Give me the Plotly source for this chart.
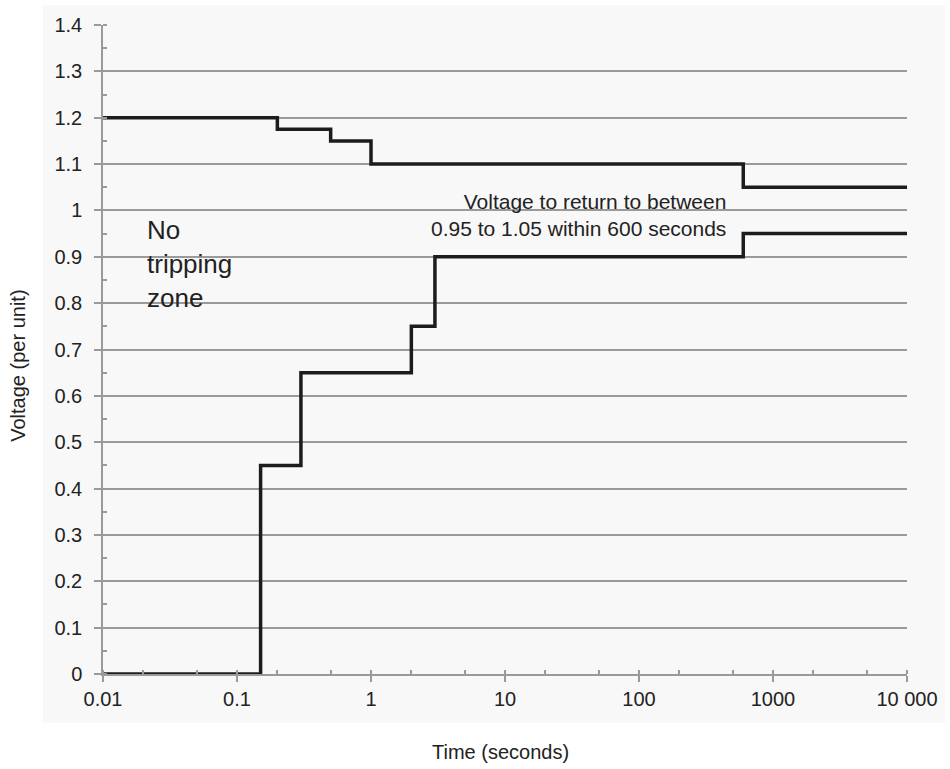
import plotly.graph_objects as go

# Data
upper_t = [0.01, 0.2, 0.5, 1, 600, 10000]
upper_v = [1.2, 1.175, 1.15, 1.1, 1.05, 1.05]
lower_t = [0.01, 0.15, 0.3, 2, 3, 600, 10000]
lower_v = [0.0, 0.45, 0.65, 0.75, 0.9, 0.95, 0.95]

x_tickvals = [0.01, 0.1, 1, 10, 100, 1000, 10000]
x_ticktext = ["0.01", "0.1", "1", "10", "100", "1000", "10 000"]
y_tickvals = [0, 0.1, 0.2, 0.3, 0.4, 0.5, 0.6, 0.7, 0.8, 0.9, 1.0, 1.1, 1.2, 1.3, 1.4]
y_ticktext = ["0", "0.1", "0.2", "0.3", "0.4", "0.5", "0.6", "0.7", "0.8", "0.9",
              "1", "1.1", "1.2", "1.3", "1.4"]

FONT = "Liberation Sans, Arial, Helvetica, sans-serif"
TXT = "#222222"
GRID = "#9a9a9a"

fig = go.Figure()
for t, v in [(upper_t, upper_v), (lower_t, lower_v)]:
    fig.add_trace(go.Scatter(x=t, y=v, mode="lines", line=dict(color="#1c1c1c", width=3.5, shape="hv"),
                             showlegend=False, hoverinfo="skip"))

fig.add_shape(type="rect", xref="paper", yref="paper", x0=-0.0746, x1=1.047, y0=-0.0755, y1=1.031,
              fillcolor="#f8f8f8", line=dict(width=0), layer="below")

fig.update_layout(
    width=950, height=769,
    margin=dict(l=103, r=43, t=25, b=95),
    paper_bgcolor="white", plot_bgcolor="rgba(0,0,0,0)",
    font=dict(family=FONT, size=20, color=TXT),
    xaxis=dict(type="log", range=[-2, 4], tickvals=x_tickvals, ticktext=x_ticktext, automargin=False,
               showgrid=False, zeroline=False, showline=True, linecolor=GRID, linewidth=1.5,
               ticks="outside", ticklen=6, tickcolor=GRID, tickwidth=1.5,
               tickfont=dict(size=20, color=TXT),
               minor=dict(ticks="inside", ticklen=4, tickcolor=GRID, showgrid=False)),
    yaxis=dict(range=[0, 1.4], tickvals=y_tickvals, ticktext=y_ticktext, automargin=False,
               showgrid=True, gridcolor=GRID, gridwidth=1.5, zeroline=False,
               showline=True, linecolor=GRID, linewidth=1.5,
               ticks="outside", ticklen=7, tickcolor=GRID, tickwidth=1.5, ticklabelstandoff=8,
               tickfont=dict(size=20, color=TXT),
               minor=dict(dtick=0.05, ticks="inside", ticklen=4, tickcolor=GRID, showgrid=False)),
)

# axis titles
fig.add_annotation(x=-0.106, y=0.4746, xref="paper", yref="paper", text="Voltage (per unit)",
                   textangle=-90, showarrow=False, xanchor="center", yanchor="middle",
                   font=dict(size=20, color=TXT, family=FONT))
fig.add_annotation(x=0.494, y=-0.12, xref="paper", yref="paper", text="Time (seconds)",
                   showarrow=False, xanchor="center", yanchor="middle",
                   font=dict(size=20, color=TXT, family=FONT))

fig.add_annotation(x=-1.687, y=0.885, xref="x", yref="y", text="No<br>tripping<br>zone",
                   showarrow=False, xanchor="left", yanchor="middle", align="left",
                   font=dict(size=26, color=TXT, family=FONT))
fig.add_annotation(x=2.664, y=0.99, xref="x", yref="y",
                   text="Voltage to return to between<br>0.95 to 1.05 within 600 seconds",
                   showarrow=False, xanchor="right", yanchor="middle", align="right",
                   font=dict(size=21, color=TXT, family=FONT))

fig.write_html("out.html", config={"displayModeBar": False},
               post_script="document.body.style.margin='0';document.body.style.overflow='hidden';")
